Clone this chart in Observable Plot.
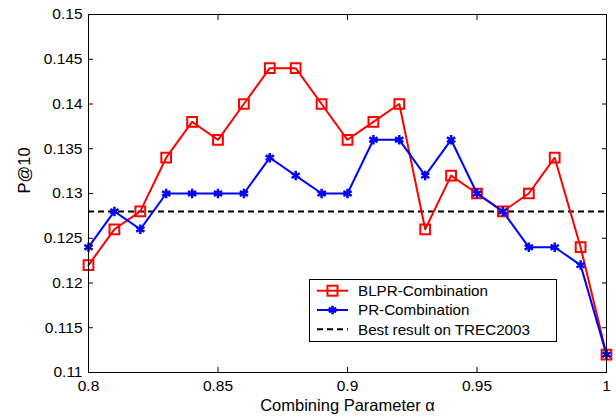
<!DOCTYPE html>
<html>
<head>
<meta charset="utf-8">
<script src="https://cdn.jsdelivr.net/npm/d3@7"></script>
<script src="https://cdn.jsdelivr.net/npm/@observablehq/plot@0.6"></script>
<style>
  body { margin: 0; background: #fff; }
  #wrap { position: relative; width: 616px; height: 417px; font-family: "Liberation Sans", Arial, sans-serif; }
  #legend { position: absolute; left: 309px; top: 279px; }
</style>
</head>
<body>
<div id="wrap"></div>
<script>
const alphas = [0.80,0.81,0.82,0.83,0.84,0.85,0.86,0.87,0.88,0.89,0.90,0.91,0.92,0.93,0.94,0.95,0.96,0.97,0.98,0.99,1.00];
const blpr   = [0.122,0.126,0.128,0.134,0.138,0.136,0.140,0.144,0.144,0.140,0.136,0.138,0.140,0.126,0.132,0.130,0.128,0.130,0.134,0.124,0.112];
const pr     = [0.124,0.128,0.126,0.130,0.130,0.130,0.130,0.134,0.132,0.130,0.130,0.136,0.136,0.132,0.136,0.130,0.128,0.124,0.124,0.122,0.112];
const bestTrec = 0.128;
const xTicks = [0.8, 0.85, 0.9, 0.95, 1];
const yTicks = [0.11, 0.115, 0.12, 0.125, 0.13, 0.135, 0.14, 0.145, 0.15];
const seriesNames = ["BLPR-Combination", "PR-Combination", "Best result on TREC2003"];

const blprData = alphas.map((a, i) => ({a, v: blpr[i]}));
const prData = alphas.map((a, i) => ({a, v: pr[i]}));
const fmt = d => String(+d.toFixed(3));

const chart = Plot.plot({
  width: 616,
  height: 417,
  marginLeft: 88,
  marginRight: 10,
  marginTop: 14,
  marginBottom: 45,
  style: {fontFamily: "Liberation Sans, Arial, sans-serif", fontSize: "15.5px", color: "#000", background: "#fff"},
  x: {domain: [0.8, 1], label: null},
  y: {domain: [0.11, 0.15], label: null},
  marks: [
    Plot.ruleY([bestTrec], {stroke: "#000", strokeWidth: 2, strokeDasharray: "6,4"}),
    Plot.line(blprData, {x: "a", y: "v", stroke: "#ff0000", strokeWidth: 2}),
    Plot.dot(blprData, {x: "a", y: "v", symbol: "square", r: 5.5, stroke: "#ff0000", strokeWidth: 2, fill: "none"}),
    Plot.line(prData, {x: "a", y: "v", stroke: "#0000ff", strokeWidth: 2}),
    Plot.dot(prData, {x: "a", y: "v", symbol: "asterisk", r: 4.5, stroke: "#0000ff", strokeWidth: 2.5}),
    Plot.frame({stroke: "#000", strokeWidth: 1}),
    Plot.axisX(xTicks, {anchor: "bottom", tickSize: -5, tickPadding: 12, tickFormat: fmt, label: null}),
    Plot.axisX(xTicks, {anchor: "top", tickSize: -5, tickFormat: () => "", label: null}),
    Plot.axisY(yTicks, {anchor: "left", tickSize: -5, tickPadding: 11, tickFormat: fmt, label: null}),
    Plot.axisY(yTicks, {anchor: "right", tickSize: -5, tickFormat: () => "", label: null}),
    Plot.text(["Combining Parameter α"], {frameAnchor: "bottom", dy: 38, fontSize: 16.5, fill: "#000"}),
    Plot.text(["P@10"], {frameAnchor: "left", dx: -64, rotate: -90, fontSize: 16.5, fill: "#000"})
  ]
});
document.getElementById("wrap").appendChild(chart);
d3.select(chart).selectAll("g[aria-label*='tick label']").attr("font-size", 15.5)
  .selectAll("text").attr("font-size", 15.5);

// Legend
const lg = d3.select("#wrap").append("svg").attr("id", "legend")
  .attr("width", 249).attr("height", 64);
lg.append("rect").attr("x", 0.5).attr("y", 0.5).attr("width", 247).attr("height", 62)
  .attr("fill", "#fff").attr("stroke", "#000").attr("stroke-width", 1);
const rows = [
  {name: seriesNames[0], color: "#ff0000", dash: null, sym: "square"},
  {name: seriesNames[1], color: "#0000ff", dash: null, sym: "asterisk"},
  {name: seriesNames[2], color: "#000", dash: "6,4", sym: null}
];
rows.forEach((r, i) => {
  const cy = 11.7 + i * 19.3;
  lg.append("line").attr("x1", 8).attr("x2", 39).attr("y1", cy).attr("y2", cy)
    .attr("stroke", r.color).attr("stroke-width", 2).attr("stroke-dasharray", r.dash);
  if (r.sym === "square") {
    lg.append("rect").attr("x", 18.5).attr("y", cy - 5).attr("width", 10).attr("height", 10)
      .attr("fill", "none").attr("stroke", r.color).attr("stroke-width", 2);
  } else if (r.sym === "asterisk") {
    lg.append("path").attr("d", d3.symbol(d3.symbolAsterisk, 50)()).attr("transform", `translate(23.5,${cy})`)
      .attr("stroke", r.color).attr("stroke-width", 2.5).attr("fill", "none");
  }
  lg.append("text").attr("x", 49).attr("y", cy).attr("dy", "0.36em")
    .attr("font-size", 15.2).attr("font-family", "Liberation Sans, Arial, sans-serif").text(r.name);
});
</script>
</body>
</html>
